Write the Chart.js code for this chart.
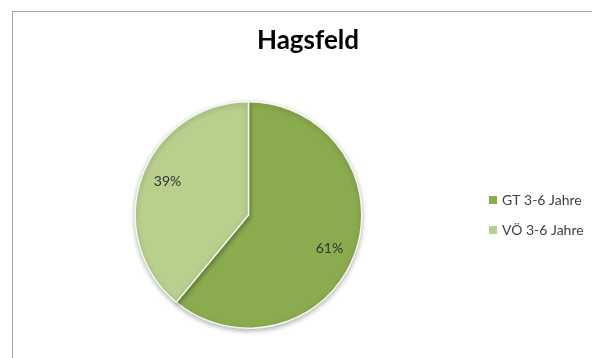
<!DOCTYPE html>
<html><head><meta charset="utf-8">
<script src="https://cdn.jsdelivr.net/npm/chart.js@4/dist/chart.umd.min.js"></script>
<style>
html,body{margin:0;padding:0;background:#fff;overflow:hidden;}
#wrap{position:relative;width:592px;height:358px;}
#frame{position:absolute;left:12px;top:11px;width:600px;height:400px;border-left:1px solid #a6a6a6;border-top:1px solid #a6a6a6;box-sizing:border-box;}
canvas{position:absolute;left:0;top:0;}
</style></head><body>
<div id="wrap"><div id="frame"></div><canvas id="c" width="592" height="358"></canvas></div>
<script>
const title = 'Hagsfeld';
const categories = ['GT 3-6 Jahre', 'VÖ 3-6 Jahre'];
const values = [61, 39];
const colors = ['#8bab4f', '#b8cf8e'];

const overlay = {
  id: 'overlay',
  beforeDatasetsDraw(chart) {
    const ctx = chart.ctx;
    ctx.save();
    ctx.shadowColor = 'rgba(0,0,0,0.28)';
    ctx.shadowBlur = 5;
    ctx.shadowOffsetY = 2;
  },
  afterDatasetsDraw(chart) {
    const ctx = chart.ctx;
    ctx.restore();
    // title
    ctx.save();
    ctx.fillStyle = '#000';
    ctx.font = 'bold 26px Lato, "Open Sans", sans-serif';
    ctx.textAlign = 'center';
    ctx.textBaseline = 'alphabetic';
    ctx.fillText(title, 308, 49);
    // percent labels
    const meta = chart.getDatasetMeta(0);
    const total = values.reduce((a, b) => a + b, 0);
    ctx.font = '14px Lato, "Open Sans", sans-serif';
    ctx.fillStyle = '#333';
    ctx.textBaseline = 'middle';
    meta.data.forEach((arc, i) => {
      const p = arc.getProps(['x','y','startAngle','endAngle','outerRadius'], true);
      const mid = (p.startAngle + p.endAngle) / 2;
      const r = p.outerRadius * 0.76;
      const x = p.x + Math.cos(mid) * r;
      const y = p.y + Math.sin(mid) * r + Math.sign(Math.sin(mid)) * 4;
      ctx.fillText(Math.round(values[i] / total * 100) + '%', x, y);
    });
    // legend
    ctx.textAlign = 'left';
    ctx.font = '14px Lato, "Open Sans", sans-serif';
    categories.forEach((c, i) => {
      const y = 200 + i * 30;
      ctx.fillStyle = colors[i];
      ctx.fillRect(489, y - 4, 8, 8);
      ctx.fillStyle = '#404040';
      ctx.fillText(c, 502, y);
    });
    ctx.restore();
  }
};

new Chart(document.getElementById('c'), {
  type: 'pie',
  data: {
    labels: categories,
    datasets: [{
      data: values,
      backgroundColor: colors,
      borderColor: '#f4f8ec',
      borderWidth: 1.5
    }]
  },
  options: {
    responsive: false,
    animation: false,
    layout: { padding: { left: 134, right: 229, top: 101, bottom: 29 } },
    plugins: { legend: { display: false }, title: { display: false }, tooltip: { enabled: false } }
  },
  plugins: [overlay]
});
</script>
</body></html>
